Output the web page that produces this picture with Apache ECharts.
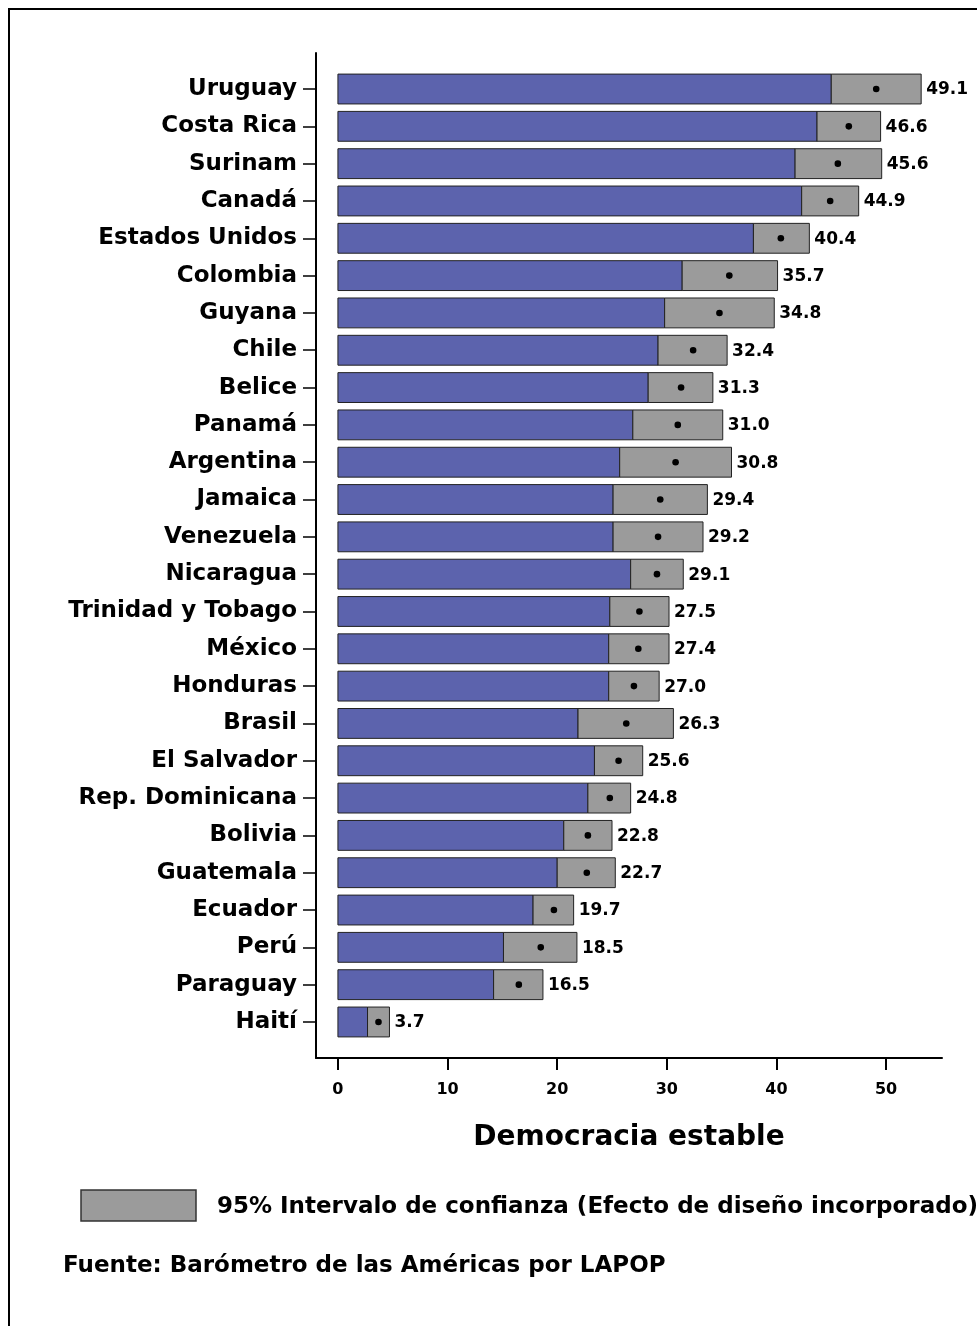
<!DOCTYPE html>
<html>
<head>
<meta charset="utf-8">
<script src="https://cdn.jsdelivr.net/npm/echarts@6/dist/echarts.min.js"></script>
<style>
html,body{margin:0;padding:0;background:#fff;}
#chart{width:977px;height:1326px;}
</style>
</head>
<body>
<div id="chart"></div>
<script>
const countries = ["Uruguay","Costa Rica","Surinam","Canadá","Estados Unidos","Colombia","Guyana","Chile","Belice","Panamá","Argentina","Jamaica","Venezuela","Nicaragua","Trinidad y Tobago","México","Honduras","Brasil","El Salvador","Rep. Dominicana","Bolivia","Guatemala","Ecuador","Perú","Paraguay","Haití"];
const means = [49.1,46.6,45.6,44.9,40.4,35.7,34.8,32.4,31.3,31.0,30.8,29.4,29.2,29.1,27.5,27.4,27.0,26.3,25.6,24.8,22.8,22.7,19.7,18.5,16.5,3.7];
const lower = [45.0,43.7,41.7,42.3,37.9,31.4,29.8,29.2,28.3,26.9,25.7,25.1,25.1,26.7,24.8,24.7,24.7,21.9,23.4,22.8,20.6,20.0,17.8,15.1,14.2,2.7];
const upper = [53.2,49.5,49.6,47.5,43.0,40.1,39.8,35.5,34.2,35.1,35.9,33.7,33.3,31.5,30.2,30.2,29.3,30.6,27.8,26.7,25.0,25.3,21.5,21.8,18.7,4.7];
const xTicks = [0,10,20,30,40,50];
const axisTitle = "Democracia estable";
const legendText = "95% Intervalo de confianza (Efecto de diseño incorporado)";
const sourceText = "Fuente: Barómetro de las Américas por LAPOP";

const FONT = "'DejaVu Sans', sans-serif";
const BLUE = "#5c63ad";
const GREY = "#9b9b9b";

const data = countries.map((c, i) => [i, lower[i], upper[i], means[i]]);
const idx = countries.map((c, i) => i);

const chart = echarts.init(document.getElementById('chart'), null, {renderer: 'canvas'});
chart.setOption({
  animation: false,
  backgroundColor: '#fff',
  grid: {left: 316, top: 53, width: 626, height: 1005, containLabel: false},
  xAxis: {
    type: 'value', min: -2, max: 55.1,
    axisLine: {show: true, onZero: false, lineStyle: {color: '#000', width: 2}},
    axisTick: {show: true, length: 12, lineStyle: {color: '#000', width: 2}, customValues: xTicks},
    axisLabel: {show: true, customValues: xTicks, color: '#000', fontFamily: FONT, fontWeight: 'bold', fontSize: 16, margin: 24},
    splitLine: {show: false},
    name: axisTitle, nameLocation: 'middle', nameGap: 66,
    nameTextStyle: {color: '#000', fontFamily: FONT, fontWeight: 'bold', fontSize: 28}
  },
  yAxis: {
    type: 'value', inverse: true, min: -0.965, max: 25.965,
    axisLine: {show: true, onZero: false, lineStyle: {color: '#000', width: 2}},
    axisTick: {show: true, length: 13, lineStyle: {color: '#000', width: 1.5}, customValues: idx},
    axisLabel: {show: true, customValues: idx, formatter: v => countries[Math.round(v)] || '',
      color: '#000', fontFamily: FONT, fontWeight: 'bold', fontSize: 23, margin: 19},
    splitLine: {show: false}
  },
  series: [{
    type: 'custom',
    data: data,
    encode: {x: [1, 2, 3], y: 0},
    renderItem: function (params, api) {
      const i = api.value(0), lo = api.value(1), hi = api.value(2), m = api.value(3);
      const p0 = api.coord([0, i]);
      const pLo = api.coord([lo, i]);
      const pHi = api.coord([hi, i]);
      const pM = api.coord([m, i]);
      const h = api.size([0, 1])[1] * 0.8;
      return {
        type: 'group',
        children: [
          {type: 'rect', shape: {x: p0[0], y: p0[1] - h / 2, width: pLo[0] - p0[0], height: h},
           style: {fill: BLUE, stroke: '#222', lineWidth: 1}},
          {type: 'rect', shape: {x: pLo[0], y: pLo[1] - h / 2, width: pHi[0] - pLo[0], height: h},
           style: {fill: GREY, stroke: '#222', lineWidth: 1}},
          {type: 'circle', shape: {cx: pM[0], cy: pM[1], r: 3.3}, style: {fill: '#000'}},
          {type: 'text', x: pHi[0] + 5, y: pHi[1] + 1,
           style: {text: m.toFixed(1), fill: '#000', font: 'bold 17px ' + FONT, align: 'left', verticalAlign: 'middle'}}
        ]
      };
    }
  }],
  graphic: [
    {type: 'rect', shape: {x: 9, y: 9, width: 1000, height: 1400}, style: {fill: 'none', stroke: '#000', lineWidth: 2}, z: 100},
    {type: 'rect', shape: {x: 81, y: 1190, width: 115, height: 31}, style: {fill: GREY, stroke: '#333', lineWidth: 1.5}},
    {type: 'text', x: 217, y: 1207, style: {text: legendText, fill: '#000', font: 'bold 23px ' + FONT, align: 'left', verticalAlign: 'middle'}},
    {type: 'text', x: 63, y: 1266, style: {text: sourceText, fill: '#000', font: 'bold 23px ' + FONT, align: 'left', verticalAlign: 'middle'}}
  ]
});
</script>
</body>
</html>
